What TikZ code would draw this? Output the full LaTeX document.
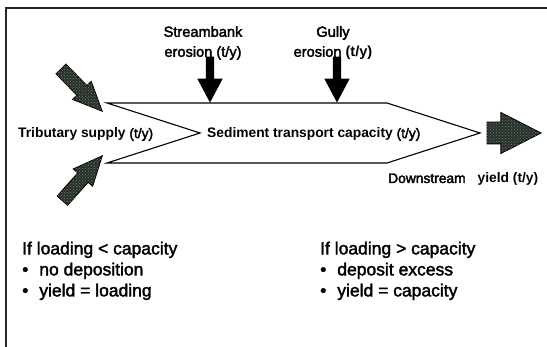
\documentclass[tikz,border=0pt]{standalone}
\usepackage{fontspec}
\setmainfont{Liberation Sans}
\usetikzlibrary{shapes.arrows,patterns}
\definecolor{stip}{RGB}{40,48,42}
\definecolor{speck}{RGB}{105,125,105}
\newcommand\heavytxt[1]{\special{pdf:literal direct 2 Tr 0.35 w}#1\special{pdf:literal direct 0 Tr}}
\begin{document}
\begin{tikzpicture}[x=1pt,y=-1pt,
 lbl/.style={inner sep=0pt, font=\fontsize{13.8}{20}\selectfont},
 big/.style={inner sep=0pt, align=left, font=\fontsize{17.5}{21}\selectfont},
 fat/.style={single arrow, draw=black, line width=0.9pt, fill=stip,
   postaction={pattern=crosshatch dots, pattern color=speck},
   inner xsep=0pt, inner ysep=0pt, text width=0pt, text depth=0pt, anchor=tip},
 thin/.style={single arrow, fill=black, inner sep=0pt, text width=0pt,
   text height=8pt, text depth=0pt, minimum height=46pt,
   single arrow head extend=8.5pt, single arrow tip angle=56, rotate=-90, anchor=tip},
 frame/.style={line width=1.5pt, draw=black!85},
 chev/.style={line width=1.1pt}
]
\useasboundingbox (0,0) rectangle (547,347);
% frame
\draw[frame] (6,347) -- (6,8) -- (547,8);
% transport chevron
\draw[chev] (107,103) -- (387,103) -- (480,133) -- (387,163) -- (107,163) -- (200,133) -- cycle;
% labels
\node[lbl, anchor=base west] (trib) at (18,138) {\textbf{Tributary supply} \heavytxt{(t/y)}};
\node[lbl, anchor=base west] (sed) at (207,138) {\textbf{Sediment transport capacity} \heavytxt{(t/y)}};
\node[lbl, anchor=north, align=center, font=\fontsize{14.6}{20}\selectfont] (sb) at (203,26) {\heavytxt{Streambank}\\\heavytxt{erosion (t/y)}};
\node[lbl, anchor=north, align=center, font=\fontsize{14.6}{20}\selectfont] (gl) at (333,26) {\heavytxt{Gully}\\\heavytxt{erosion} \textbf{(t/y)}};
\node[lbl, anchor=base west, font=\fontsize{13.8}{20}\selectfont] (dsl) at (388,183) {\heavytxt{Downstream}\hspace{12pt}\textbf{yield (t/y)}};
% input arrows
\node[fat, text height=13pt, single arrow head extend=6pt, single arrow tip angle=48,
  minimum height=59pt, rotate=-45.7] (t1) at (103,112) {};
\node[fat, text height=13pt, single arrow head extend=6pt, single arrow tip angle=48,
  minimum height=60pt, rotate=48.4] (t2) at (103,155) {};
\node[thin] (a1) at (210,103) {};
\node[thin] (a2) at (337,103) {};
% output arrow
\node[fat, text height=21pt, minimum height=54pt,
  single arrow head extend=9.5pt, single arrow tip angle=54] (ds) at (542,133) {};
% conditions
\node[big, anchor=north west] (c1) at (22,241.5)
  {\heavytxt{If loading {\textless} capacity}\\\heavytxt{\textbullet\hspace{11pt}no deposition}\\\heavytxt{\textbullet\hspace{11pt}yield = loading}};
\node[big, anchor=north west] (c2) at (320,241.5)
  {\heavytxt{If loading {\textgreater} capacity}\\\heavytxt{\textbullet\hspace{11pt}deposit excess}\\\heavytxt{\textbullet\hspace{11pt}yield = capacity}};
\end{tikzpicture}
\end{document}
